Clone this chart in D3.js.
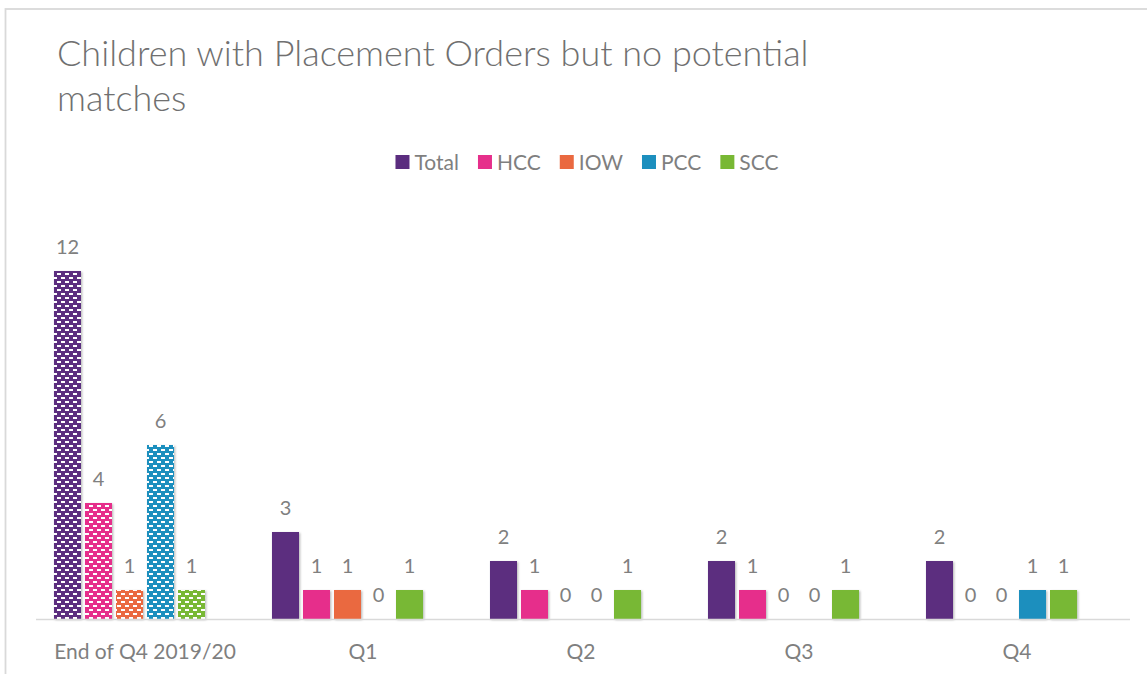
<!DOCTYPE html>
<html>
<head>
<meta charset="utf-8">
<script src="https://cdn.jsdelivr.net/npm/d3@7"></script>
<style>
  html, body { margin: 0; padding: 0; background: #fff; }
  svg { display: block; }
  text { font-family: Lato, "Open Sans", sans-serif; }
</style>
</head>
<body>
<svg id="chart" width="1147" height="674"></svg>
<script>
// ---- data ----
const categories = ["End of Q4 2019/20", "Q1", "Q2", "Q3", "Q4"];
const seriesNames = ["Total", "HCC", "IOW", "PCC", "SCC"];
const totalValues = [12, 3, 2, 2, 2];
const hccValues   = [4, 1, 1, 1, 0];
const iowValues   = [1, 1, 0, 0, 0];
const pccValues   = [6, 0, 0, 0, 1];
const sccValues   = [1, 1, 1, 1, 1];
const patternedCategories = ["End of Q4 2019/20"];
const titleLines = ["Children with Placement Orders but no potential", "matches"];

const seriesValues = [totalValues, hccValues, iowValues, pccValues, sccValues];
const colors = ["#5B2D7F", "#E62F8B", "#EA6940", "#1C8FBE", "#78B834"];

const svg = d3.select("#chart");
const W = 1147, H = 674;

// chart border
svg.append("rect")
  .attr("x", 5.5).attr("y", 9)
  .attr("width", W + 20).attr("height", H + 20)
  .attr("fill", "none").attr("stroke", "#d9d9d9").attr("stroke-width", 1.8);

const defs = svg.append("defs");
const shadow = defs.append("filter").attr("id", "shadow")
  .attr("x", "-20%").attr("y", "-5%").attr("width", "150%").attr("height", "120%");
shadow.append("feDropShadow").attr("dx", 1.2).attr("dy", 1).attr("stdDeviation", 0.9)
  .attr("flood-color", "#000").attr("flood-opacity", 0.28);

// dashed-horizontal patterns
seriesNames.forEach((s, i) => {
  const p = defs.append("pattern").attr("id", "pat" + i)
    .attr("patternUnits", "userSpaceOnUse")
    .attr("width", 8).attr("height", 8);
  p.append("rect").attr("width", 8).attr("height", 8).attr("fill", colors[i]);
  p.append("rect").attr("x", 1).attr("y", 1).attr("width", 4).attr("height", 2).attr("fill", "#fff");
  p.append("rect").attr("x", 5).attr("y", 5).attr("width", 4).attr("height", 2).attr("fill", "#fff");
  p.append("rect").attr("x", -3).attr("y", 5).attr("width", 4).attr("height", 2).attr("fill", "#fff");
});

// title
svg.append("text")
  .attr("x", 57).attr("y", 66)
  .attr("fill", "#707070").attr("font-size", 36).attr("font-weight", 300)
  .selectAll("tspan").data(titleLines).join("tspan")
  .attr("x", 57).attr("dy", (d, i) => i === 0 ? 0 : 45)
  .text(d => d);

// scales
const plotLeft = 36, plotRight = 1126, baseY = 619, topY = 213;
const x0 = d3.scaleBand().domain(categories).range([plotLeft, plotRight]).paddingInner(0).paddingOuter(0);
const slots = seriesNames.concat(["_spare"]);
const x1 = d3.scaleBand().domain(slots).range([0, x0.bandwidth()]).paddingInner(4 / 31).paddingOuter(0.58);
const y = d3.scaleLinear().domain([0, 14]).range([baseY, topY]);

// bars
const rows = [];
categories.forEach((c, ci) => {
  seriesNames.forEach((s, si) => {
    rows.push({ cat: c, series: s, si, value: seriesValues[si][ci] });
  });
});

const g = svg.append("g");
g.selectAll("rect.bar").data(rows.filter(d => d.value > 0)).join("rect")
  .attr("class", "bar")
  .attr("x", d => x0(d.cat) + x1(d.series))
  .attr("y", d => y(d.value))
  .attr("width", x1.bandwidth())
  .attr("height", d => y(0) - y(d.value))
  .attr("fill", d => patternedCategories.includes(d.cat) ? `url(#pat${d.si})` : colors[d.si])
  .attr("filter", "url(#shadow)");

// axis line
svg.append("line")
  .attr("x1", plotLeft).attr("x2", plotRight + 4)
  .attr("y1", baseY + 0.5).attr("y2", baseY + 0.5)
  .attr("stroke", "#d9d9d9").attr("stroke-width", 1.5);

// x axis labels via d3 axis
const xAxis = d3.axisBottom(x0).tickSize(0).tickPadding(0);
const axG = svg.append("g").attr("transform", `translate(0,${baseY})`).call(xAxis);
axG.select(".domain").remove();
axG.selectAll("text")
  .attr("y", 40).attr("dy", 0)
  .attr("fill", "#7f7f7f").attr("font-size", 21)
  .attr("font-family", "Lato, 'Open Sans', sans-serif");

// value labels
g.selectAll("text.val").data(rows).join("text")
  .attr("class", "val")
  .attr("x", d => x0(d.cat) + x1(d.series) + x1.bandwidth() / 2)
  .attr("y", d => y(d.value) - 17)
  .attr("text-anchor", "middle")
  .attr("fill", "#808080").attr("font-size", 20)
  .text(d => d.value);

// legend
const leg = svg.append("g");
const items = leg.selectAll("g").data(seriesNames).join("g");
items.append("rect").attr("width", 14).attr("height", 14).attr("y", 155)
  .attr("fill", (d, i) => colors[i]);
items.append("text").attr("x", 19).attr("y", 170)
  .attr("fill", "#7f7f7f").attr("font-size", 21).text(d => d);
let widths = [];
items.each(function () { widths.push(19 + d3.select(this).select("text").node().getComputedTextLength()); });
const gap = 19;
const totalW = d3.sum(widths) + gap * (widths.length - 1);
let cx = 587 - totalW / 2;
items.attr("transform", (d, i) => {
  const t = `translate(${cx},0)`;
  cx += widths[i] + gap;
  return t;
});
</script>
</body>
</html>
